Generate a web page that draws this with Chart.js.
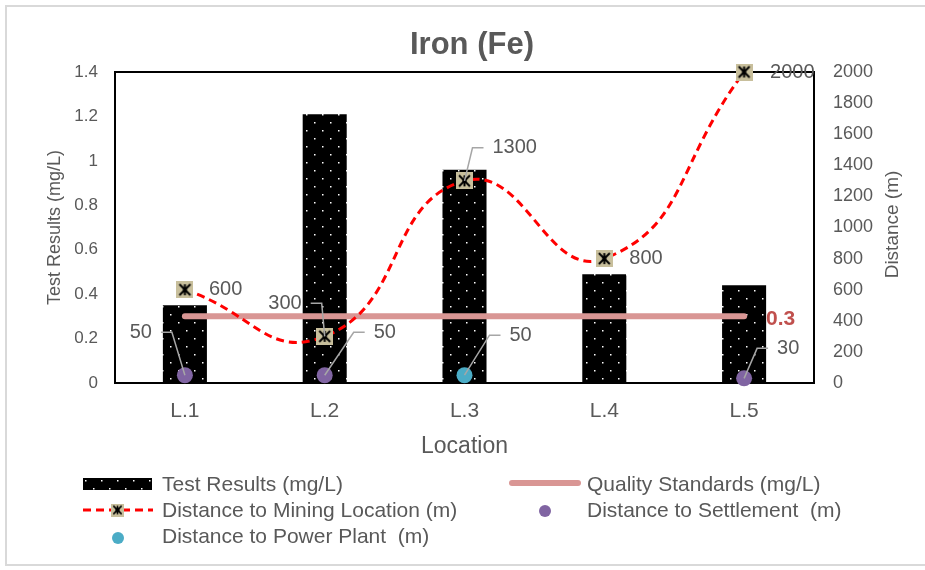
<!DOCTYPE html>
<html>
<head>
<meta charset="utf-8">
<title>Iron (Fe)</title>
<script src="https://cdn.jsdelivr.net/npm/chart.js@4.4.0/dist/chart.umd.min.js"></script>
<style>
body { margin: 0; background: #fff; font-family: "Liberation Sans", Arial, sans-serif; }
#wrap { position: relative; width: 925px; height: 570px; overflow: hidden; }
#frame { position: absolute; left: 5px; top: 5px; width: 940px; height: 561px; border: 2px solid #d9d9d9; box-sizing: border-box; }
#chart { position: absolute; left: 0; top: 0; }
.sym { position: absolute; }
.txt { position: absolute; font-size: 21px; line-height: 24px; color: #595959; white-space: pre; }
</style>
</head>
<body>
<div id="wrap">
  <div id="frame"></div>
  <canvas id="chart" width="925" height="570"></canvas>
  <div id="legend"></div>
</div>
<script>
// data
var locations = ['L.1', 'L.2', 'L.3', 'L.4', 'L.5'];
var testResults = [0.35, 1.21, 0.96, 0.49, 0.44];
var qualityStandard = [0.3, 0.3, 0.3, 0.3, 0.3];
var miningDistance = [600, 300, 1300, 800, 2000];
var settlementDistance = [50, 50, null, null, 30];
var powerPlantDistance = [null, null, 50, null, null];

var seriesNames = ['Test Results (mg/L)', 'Quality Standards (mg/L)', 'Distance to Mining Location (m)',
    'Distance to Settlement  (m)', 'Distance to Power Plant  (m)'];
var chartTitle = 'Iron (Fe)';
var rightAxisTitle = 'Distance (m)';

// label placement (offset from the point, align, leader line)
var miningLabelPos = [[24, 0, 'left', false], [-23, -33, 'right', true], [28, -33, 'left', true], [25, 0, 'left', false], [26, 0, 'left', false]];
var settlementLabelPos = [[-33, -43, 'right', true], [49, -43, 'left', true], null, null, [33, -30, 'left', true]];
var powerLabelPos = [null, null, [45, -40, 'left', true], null, null];

var textColor = '#595959';
var fontFam = '"Liberation Sans", Arial, sans-serif';

// black fill with white dots
function makeDots() {
    var c = document.createElement('canvas');
    c.width = 16; c.height = 16;
    var g = c.getContext('2d');
    g.fillStyle = '#000';
    g.fillRect(0, 0, 16, 16);
    g.fillStyle = '#fff';
    g.fillRect(2, 2, 1.5, 1.5);
    g.fillRect(10, 10, 1.5, 1.5);
    return c;
}
var dotsCanvas = makeDots();
var dotsPattern = document.getElementById('chart').getContext('2d').createPattern(dotsCanvas, 'repeat');

// tan square with black star marker
function makeMarker(size, lw) {
    var c = document.createElement('canvas');
    c.width = size; c.height = size;
    var g = c.getContext('2d');
    g.fillStyle = '#c8bf9c';
    g.fillRect(0, 0, size, size);
    g.strokeStyle = '#000';
    g.lineWidth = lw;
    var a = size * 0.18, b = size * 0.82, m = size / 2;
    g.beginPath();
    g.moveTo(a, a); g.lineTo(b, b);
    g.moveTo(b, a); g.lineTo(a, b);
    g.moveTo(m, a); g.lineTo(m, b);
    g.stroke();
    g.fillStyle = '#000';
    g.fillRect(m - 2, m - 2, 4, 4);
    return c;
}
var marker = makeMarker(17, 2);

var frameBox = {
    id: 'frameBox',
    beforeDatasetsDraw: function (chart) {
        var a = chart.chartArea, ctx = chart.ctx;
        ctx.save();
        ctx.strokeStyle = '#000';
        ctx.lineWidth = 2;
        ctx.strokeRect(a.left, a.top, a.right - a.left, a.bottom - a.top);
        ctx.restore();
    },
    afterDraw: function (chart) {
        var a = chart.chartArea, ctx = chart.ctx;
        ctx.save();
        ctx.fillStyle = textColor;
        ctx.textAlign = 'center';
        ctx.textBaseline = 'middle';
        ctx.font = 'bold 31px ' + fontFam;
        ctx.fillText(chartTitle, 472, 45);
        ctx.font = '19px ' + fontFam;
        ctx.translate(893, (a.top + a.bottom) / 2 - 3);
        ctx.rotate(-Math.PI / 2);
        ctx.fillText(rightAxisTitle, 0, 0);
        ctx.restore();
    }
};

var valueLabels = {
    id: 'valueLabels',
    afterDatasetsDraw: function (chart) {
        var ctx = chart.ctx;
        var sets = [[2, miningDistance, miningLabelPos], [3, settlementDistance, settlementLabelPos], [4, powerPlantDistance, powerLabelPos]];
        ctx.save();
        ctx.font = '20px ' + fontFam;
        ctx.textBaseline = 'middle';
        sets.forEach(function (s) {
            var meta = chart.getDatasetMeta(s[0]);
            s[2].forEach(function (p, i) {
                if (!p || s[1][i] == null) return;
                var pt = meta.data[i];
                var tx = pt.x + p[0], ty = pt.y + p[1];
                var dir = p[2] === 'left' ? -1 : 1;
                if (p[3]) {
                    ctx.strokeStyle = '#a6a6a6';
                    ctx.lineWidth = 1.5;
                    ctx.beginPath();
                    ctx.moveTo(pt.x, pt.y);
                    ctx.lineTo(tx + dir * 20, ty);
                    ctx.lineTo(tx + dir * 9, ty);
                    ctx.stroke();
                }
                ctx.fillStyle = textColor;
                ctx.textAlign = p[2];
                ctx.fillText(String(s[1][i]), tx, ty);
            });
        });
        // quality standard value at the end of the line
        var qm = chart.getDatasetMeta(1);
        var last = qm.data[qm.data.length - 1];
        ctx.font = 'bold 21px ' + fontFam;
        ctx.fillStyle = '#c0504d';
        ctx.textAlign = 'left';
        ctx.fillText(String(qualityStandard[qualityStandard.length - 1]), last.x + 22, last.y + 3);
        ctx.restore();
    }
};

function plainTick(v) {
    return String(Math.round(v * 100) / 100);
}

var chart = new Chart(document.getElementById('chart'), {
    data: {
        labels: locations,
        datasets: [{
            type: 'bar',
            label: seriesNames[0],
            data: testResults,
            backgroundColor: dotsPattern,
            barPercentage: 0.315,
            categoryPercentage: 1,
            yAxisID: 'y',
            order: 5
        }, {
            type: 'line',
            label: seriesNames[1],
            data: qualityStandard,
            borderColor: '#d99694',
            borderWidth: 6,
            borderCapStyle: 'round',
            pointRadius: 0,
            yAxisID: 'y',
            order: 4
        }, {
            type: 'line',
            label: seriesNames[2],
            data: miningDistance,
            borderColor: '#ff0000',
            borderWidth: 3,
            borderDash: [8, 5],
            tension: 0.5,
            pointStyle: marker,
            clip: false,
            yAxisID: 'y1',
            order: 3
        }, {
            type: 'line',
            label: seriesNames[3],
            data: settlementDistance,
            showLine: false,
            pointRadius: 8,
            pointBackgroundColor: '#8064a2',
            pointBorderWidth: 0,
            clip: false,
            yAxisID: 'y1',
            order: 2
        }, {
            type: 'line',
            label: seriesNames[4],
            data: powerPlantDistance,
            showLine: false,
            pointRadius: 8,
            pointBackgroundColor: '#4bacc6',
            pointBorderWidth: 0,
            clip: false,
            yAxisID: 'y1',
            order: 1
        }]
    },
    options: {
        responsive: false,
        animation: false,
        layout: { padding: { left: 0, right: 0, top: 72, bottom: 110 } },
        plugins: {
            legend: { display: false },
            tooltip: { enabled: false },
            title: { display: false }
        },
        scales: {
            x: {
                grid: { display: false, drawTicks: false },
                border: { display: false },
                ticks: { color: textColor, font: { family: fontFam, size: 21 }, padding: 16 },
                title: { display: true, text: 'Location', color: textColor, font: { family: fontFam, size: 23 }, padding: { top: 0, bottom: 0 } },
                afterFit: function (s) { s.height = 77; }
            },
            y: {
                position: 'left',
                min: 0, max: 1.4,
                grid: { display: false, drawTicks: false },
                border: { display: false },
                ticks: { stepSize: 0.2, color: textColor, font: { family: fontFam, size: 17 }, padding: 17, callback: plainTick },
                title: { display: true, text: 'Test Results (mg/L)', color: textColor, font: { family: fontFam, size: 18 }, padding: { top: 44, bottom: 0 } },
                afterFit: function (s) { s.width = 115; }
            },
            y1: {
                position: 'right',
                min: 0, max: 2000,
                grid: { display: false, drawTicks: false },
                border: { display: false },
                ticks: { stepSize: 200, color: textColor, font: { family: fontFam, size: 18 }, padding: 19, callback: plainTick },
                title: { display: false },
                afterFit: function (s) { s.width = 111; }
            }
        }
    },
    plugins: [frameBox, valueLabels]
});

// legend, laid out in two columns like the original
function addText(text, left, cy) {
    var d = document.createElement('div');
    d.className = 'txt';
    d.textContent = text;
    d.style.left = left + 'px';
    d.style.top = (cy - 12) + 'px';
    document.getElementById('legend').appendChild(d);
}
function addSym(el, left, top, w, h) {
    el.className = 'sym';
    el.style.left = left + 'px';
    el.style.top = top + 'px';
    el.style.width = w + 'px';
    el.style.height = h + 'px';
    document.getElementById('legend').appendChild(el);
    return el;
}

var barSym = addSym(document.createElement('div'), 83, 478, 69, 12);
barSym.style.background = 'url(' + dotsCanvas.toDataURL() + ')';
addText(seriesNames[0], 162, 484);

var qSym = addSym(document.createElement('div'), 509, 480, 72, 6);
qSym.style.background = '#d99694';
qSym.style.borderRadius = '3px';
addText(seriesNames[1], 587, 484);

var mSym = addSym(document.createElement('canvas'), 80, 500, 76, 20);
mSym.width = 76; mSym.height = 20;
var mg = mSym.getContext('2d');
mg.strokeStyle = '#ff0000';
mg.lineWidth = 3;
mg.setLineDash([8, 5]);
mg.beginPath(); mg.moveTo(3, 10); mg.lineTo(73, 10); mg.stroke();
mg.drawImage(makeMarker(13, 1.6), 31, 3.5);
addText(seriesNames[2], 162, 510);

var sSym = addSym(document.createElement('div'), 539, 505, 12, 12);
sSym.style.background = '#8064a2';
sSym.style.borderRadius = '50%';
addText(seriesNames[3], 587, 510);

var pSym = addSym(document.createElement('div'), 112, 532, 12, 12);
pSym.style.background = '#4bacc6';
pSym.style.borderRadius = '50%';
addText(seriesNames[4], 162, 536);
</script>
</body>
</html>
